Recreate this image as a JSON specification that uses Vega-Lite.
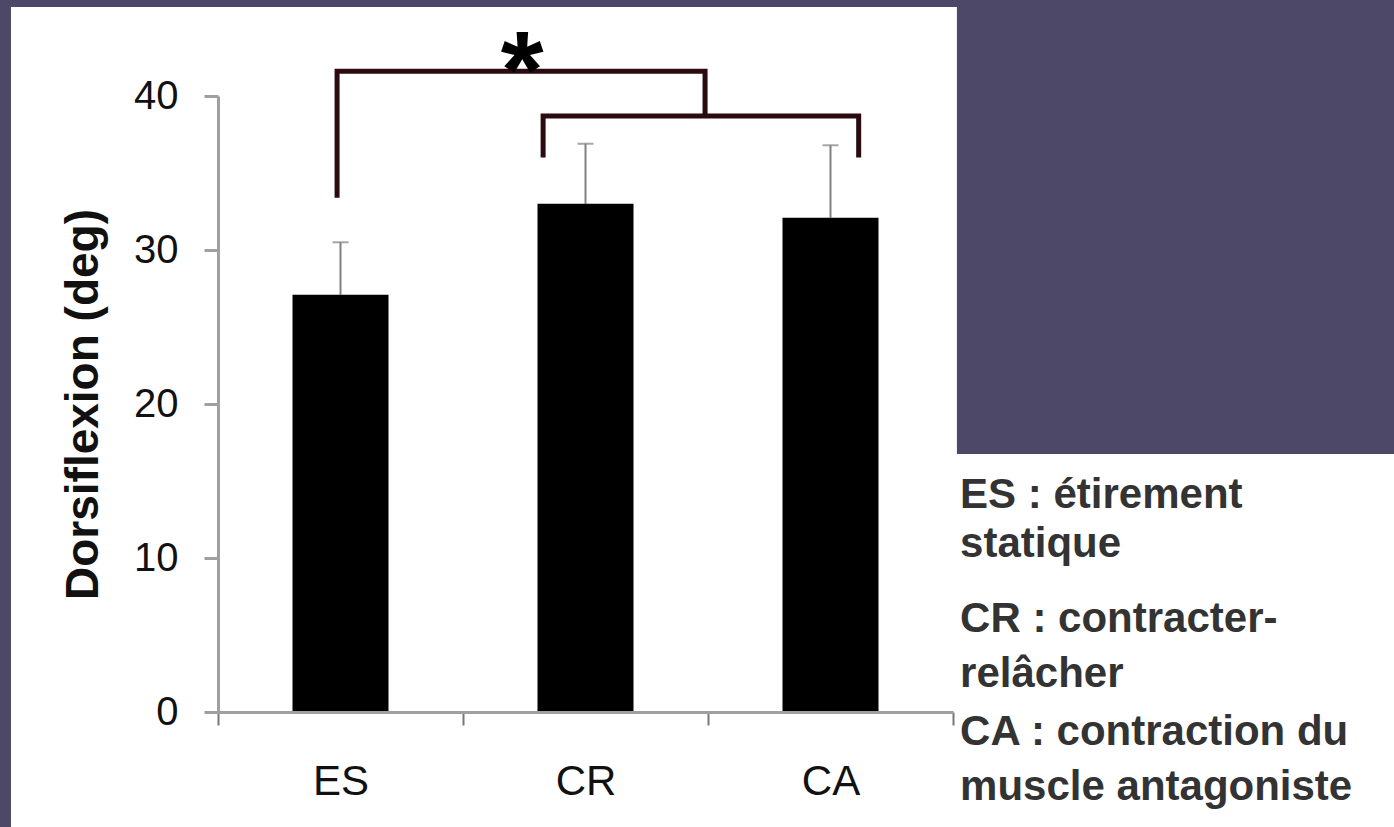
{
  "$schema": "https://vega.github.io/schema/vega-lite/v6.json",
  "width": 735,
  "height": 616,
  "autosize": {"type": "none"},
  "padding": {"left": 218, "top": 96, "right": 441, "bottom": 115},
  "background": "#4e4868",
  "config": {
    "view": {"stroke": null},
    "font": "Liberation Sans"
  },
  "datasets": {
    "bars": [
      {"group": "ES", "mean": 27.1, "upper": 30.5},
      {"group": "CR", "mean": 33.0, "upper": 36.9},
      {"group": "CA", "mean": 32.1, "upper": 36.8}
    ],
    "brackets": [
      {"pair": "ES vs CR-CA", "step": 1, "pos": 0.486, "deg": 33.4},
      {"pair": "ES vs CR-CA", "step": 2, "pos": 0.486, "deg": 41.6},
      {"pair": "ES vs CR-CA", "step": 3, "pos": 1.988, "deg": 41.6},
      {"pair": "ES vs CR-CA", "step": 4, "pos": 1.988, "deg": 38.7},
      {"pair": "CR-CA", "step": 1, "pos": 1.327, "deg": 36.0},
      {"pair": "CR-CA", "step": 2, "pos": 1.327, "deg": 38.7},
      {"pair": "CR-CA", "step": 3, "pos": 2.615, "deg": 38.7},
      {"pair": "CR-CA", "step": 4, "pos": 2.615, "deg": 36.0}
    ]
  },
  "resolve": {"scale": {"x": "independent"}},
  "layer": [
    {
      "data": {"values": [{}]},
      "mark": {"type": "rect", "color": "#ffffff"},
      "encoding": {
        "x": {"datum": -0.845, "type": "quantitative", "scale": {"domain": [0, 3], "nice": false, "zero": false}, "axis": null},
        "x2": {"datum": 3.016},
        "y": {"datum": 45.78, "type": "quantitative", "scale": {"domain": [0, 40], "nice": false}, "title": "Dorsiflexion (deg)"},
        "y2": {"datum": -7.47}
      }
    },
    {
      "data": {"values": [{}]},
      "mark": {"type": "rect", "color": "#ffffff"},
      "encoding": {
        "x": {"datum": 3.0, "type": "quantitative", "scale": {"domain": [0, 3], "nice": false, "zero": false}, "axis": null},
        "x2": {"datum": 4.81},
        "y": {"datum": 16.75, "type": "quantitative", "scale": {"domain": [0, 40], "nice": false}, "title": "Dorsiflexion (deg)"},
        "y2": {"datum": -7.47}
      }
    },
    {
      "data": {"name": "bars"},
      "mark": {"type": "rule", "color": "#808080", "strokeWidth": 2},
      "encoding": {
        "x": {"field": "group", "type": "nominal", "sort": ["ES", "CR", "CA"], "scale": {"type": "point", "padding": 0.5}, "axis": null},
        "y": {"field": "mean", "type": "quantitative", "scale": {"domain": [0, 40], "nice": false}, "title": "Dorsiflexion (deg)"},
        "y2": {"field": "upper"}
      }
    },
    {
      "data": {"name": "bars"},
      "mark": {"type": "tick", "color": "#808080", "thickness": 2, "size": 16, "orient": "horizontal"},
      "encoding": {
        "x": {"field": "group", "type": "nominal", "sort": ["ES", "CR", "CA"], "scale": {"type": "point", "padding": 0.5}, "axis": null},
        "y": {"field": "upper", "type": "quantitative", "scale": {"domain": [0, 40], "nice": false}, "title": "Dorsiflexion (deg)"}
      }
    },
    {
      "data": {"name": "bars"},
      "mark": {"type": "bar", "color": "#000000", "width": 96},
      "encoding": {
        "x": {
          "field": "group", "type": "nominal", "sort": ["ES", "CR", "CA"],
          "scale": {"type": "band", "paddingInner": 0, "paddingOuter": 0},
          "axis": {
            "title": null, "zindex": 2,
            "domainColor": "#a0a0a0", "domainWidth": 3,
            "tickColor": "#777777", "tickWidth": 2, "tickSize": 13, "tickBand": "extent",
            "labelFont": "Liberation Sans", "labelFontSize": 42, "labelColor": "#111111", "labelPadding": 36, "labelAngle": 0,
            "grid": false
          }
        },
        "y": {
          "field": "mean", "type": "quantitative",
          "scale": {"domain": [0, 40], "nice": false},
          "title": "Dorsiflexion (deg)",
          "axis": {
            "values": [0, 10, 20, 30, 40], "title": "Dorsiflexion (deg)", "zindex": 2,
            "domainColor": "#a0a0a0", "domainWidth": 3,
            "tickColor": "#a0a0a0", "tickWidth": 3, "tickSize": 14,
            "labelFont": "Liberation Sans", "labelFontSize": 40, "labelColor": "#111111", "labelPadding": 26,
            "titleFont": "Liberation Sans", "titleFontSize": 46, "titleFontWeight": "bold", "titleColor": "#111111", "titlePadding": 26,
            "grid": false
          }
        }
      }
    },
    {
      "data": {"name": "brackets"},
      "mark": {"type": "line", "color": "#2b0a10", "strokeWidth": 5, "strokeJoin": "miter", "strokeCap": "butt"},
      "encoding": {
        "x": {"field": "pos", "type": "quantitative", "scale": {"domain": [0, 3], "nice": false, "zero": false}, "axis": null},
        "y": {"field": "deg", "type": "quantitative", "scale": {"domain": [0, 40], "nice": false}, "title": "Dorsiflexion (deg)"},
        "detail": {"field": "pair"},
        "order": {"field": "step"}
      }
    },
    {
      "data": {"values": [{}]},
      "mark": {"type": "text", "text": "*", "font": "Liberation Sans", "fontWeight": "bold", "fontSize": 110, "color": "#000000", "align": "center", "baseline": "alphabetic"},
      "encoding": {
        "x": {"datum": 1.241, "type": "quantitative", "scale": {"domain": [0, 3], "nice": false, "zero": false}, "axis": null},
        "y": {"datum": 39.29, "type": "quantitative", "scale": {"domain": [0, 40], "nice": false}, "title": "Dorsiflexion (deg)"}
      }
    },
    {
      "data": {"values": [{}]},
      "mark": {"type": "text", "text": ["ES : étirement", "statique"], "lineHeight": 49, "font": "Liberation Sans", "fontWeight": "bold", "fontSize": 42, "color": "#333333", "align": "left", "baseline": "alphabetic"},
      "encoding": {
        "x": {"datum": 3.029, "type": "quantitative", "scale": {"domain": [0, 3], "nice": false, "zero": false}, "axis": null},
        "y": {"datum": 13.25, "type": "quantitative", "scale": {"domain": [0, 40], "nice": false}, "title": "Dorsiflexion (deg)"}
      }
    },
    {
      "data": {"values": [{}]},
      "mark": {"type": "text", "text": ["CR : contracter-", "relâcher"], "lineHeight": 55, "font": "Liberation Sans", "fontWeight": "bold", "fontSize": 42, "color": "#333333", "align": "left", "baseline": "alphabetic"},
      "encoding": {
        "x": {"datum": 3.029, "type": "quantitative", "scale": {"domain": [0, 3], "nice": false, "zero": false}, "axis": null},
        "y": {"datum": 5.19, "type": "quantitative", "scale": {"domain": [0, 40], "nice": false}, "title": "Dorsiflexion (deg)"}
      }
    },
    {
      "data": {"values": [{}]},
      "mark": {"type": "text", "text": ["CA : contraction du", "muscle antagoniste"], "lineHeight": 55, "font": "Liberation Sans", "fontWeight": "bold", "fontSize": 42, "color": "#333333", "align": "left", "baseline": "alphabetic"},
      "encoding": {
        "x": {"datum": 3.029, "type": "quantitative", "scale": {"domain": [0, 3], "nice": false, "zero": false}, "axis": null},
        "y": {"datum": -2.14, "type": "quantitative", "scale": {"domain": [0, 40], "nice": false}, "title": "Dorsiflexion (deg)"}
      }
    }
  ]
}
